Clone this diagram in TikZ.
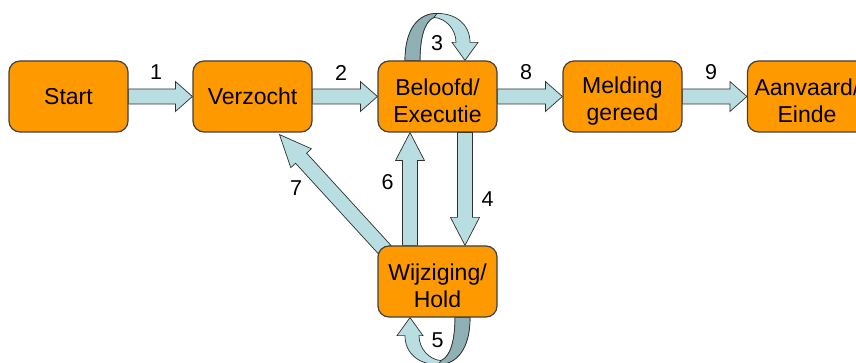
\documentclass[tikz,border=0pt]{standalone}
\usepackage{fontspec}
\setmainfont{Liberation Sans}
\usetikzlibrary{calc}
\pgfdeclarelayer{bg}
\pgfsetlayers{bg,main}
\definecolor{orangebox}{HTML}{FF9900}
\definecolor{boxline}{HTML}{404040}
\definecolor{arrowfill}{HTML}{B8DEE2}
\definecolor{arrowdark}{HTML}{8FB0B4}
\definecolor{arrowline}{HTML}{303030}
\newcommand\lowerfirst{\rule{0pt}{25pt}}
\tikzset{
 state/.style={draw=boxline, line width=1.2pt, fill=orangebox, rounded corners=11pt,
   minimum width=119pt, minimum height=71pt, inner sep=0pt, align=center,
   font=\fontsize{23}{27}\selectfont},
 lbl/.style={font=\fontsize{21.5}{25}\selectfont, inner sep=0pt},
 barrow/.style={draw=arrowline, line width=0.7pt, fill=arrowfill, line join=miter},
}
\newcommand\blockarrow[5]{%
  \coordinate (ba-h) at ($#2!#4!#1$);
  \draw[barrow] ($#1!#3!90:#2$) -- ($(ba-h)!#3!90:#2$) -- ($(ba-h)!#5!90:#2$) -- #2
    -- ($(ba-h)!#5!-90:#2$) -- ($(ba-h)!#3!-90:#2$) -- ($#1!#3!-90:#2$) -- cycle;
}
\newcommand\loopribbon{%
 \draw[barrow] (-32.5,0) .. controls (-32.5,-31) and (-19.5,-47) .. (-0.5,-47)
   .. controls (18.5,-47) and (32.5,-36) .. (32.5,-18) -- (40.5,-18) -- (27.5,0)
   -- (14.5,-18) -- (18.5,-18) .. controls (18.5,-31) and (8.5,-42) .. (-3.5,-43)
   .. controls (-13.5,-39) and (-17.5,-21) .. (-17.5,0) -- cycle;
 \draw[barrow, fill=arrowdark] (-32.5,0) .. controls (-32.5,-31) and (-19.5,-47) .. (-0.5,-47)
   -- (-3.5,-43) .. controls (-13.5,-39) and (-17.5,-21) .. (-17.5,0) -- cycle;
}
\begin{document}
\begin{tikzpicture}[x=1pt, y=-1pt]
\useasboundingbox (0,0) rectangle (856,363);
\begin{scope}
\clip (0,0) rectangle (856,363);
\node[state] (start) at (68.5,96.5) {Start};
\node[state] (verz) at (252.5,96.5) {Verzocht};
\node[state] (bel) at (437.5,96.5) {\lowerfirst Beloofd/\\Executie};
\node[state] (meld) at (622.5,96.5) {\lowerfirst Melding\\gereed};
\node[state] (aanv) at (807,96.5) {\lowerfirst Aanvaard/\\Einde};
\node[state] (wij) at (437.5,281.5) {\lowerfirst Wijziging/\\Hold};
\end{scope}

\coordinate (a4s) at ($(bel.south)+(27.5,0)$);
\coordinate (a4e) at ($(wij.north)+(27.5,0)$);
\coordinate (a6s) at ($(wij.north)+(-27.5,0)$);
\coordinate (a6e) at ($(bel.south)+(-27.5,0)$);
\coordinate (a7s) at ($(wij.north west)+(8,5)$);
\coordinate (a7e) at ($(verz.south)+(27,2)$);

\begin{pgfonlayer}{bg}
\fill[white] (0,0) rectangle (856,363);
\blockarrow{(start.east)}{(verz.west)}{7.5pt}{17pt}{15pt}
\blockarrow{(verz.east)}{(bel.west)}{7.5pt}{17pt}{15pt}
\blockarrow{(bel.east)}{(meld.west)}{7.5pt}{17pt}{15pt}
\blockarrow{(meld.east)}{(aanv.west)}{7.5pt}{17pt}{15pt}
\blockarrow{(a4s)}{(a4e)}{7.5pt}{28pt}{14.5pt}
\blockarrow{(a6s)}{(a6e)}{7.5pt}{28pt}{14.5pt}
\blockarrow{(a7s)}{(a7e)}{7.5pt}{32pt}{14pt}
\begin{scope}[shift={(bel.north)}]
\loopribbon
\end{scope}
\begin{scope}[shift={(wij.south)}, rotate=180]
\loopribbon
\end{scope}
\end{pgfonlayer}

\node[lbl] (l1) at (156,72) {1};
\node[lbl] (l2) at (341,72.5) {2};
\node[lbl] (l3) at (437,43.5) {3};
\node[lbl] (l4) at (487.5,199.5) {4};
\node[lbl] (l5) at (437.5,340.5) {5};
\node[lbl] (l6) at (387.5,182.5) {6};
\node[lbl] (l7) at (296,188.5) {7};
\node[lbl] (l8) at (526,72) {8};
\node[lbl] (l9) at (711,72) {9};
\end{tikzpicture}
\end{document}
